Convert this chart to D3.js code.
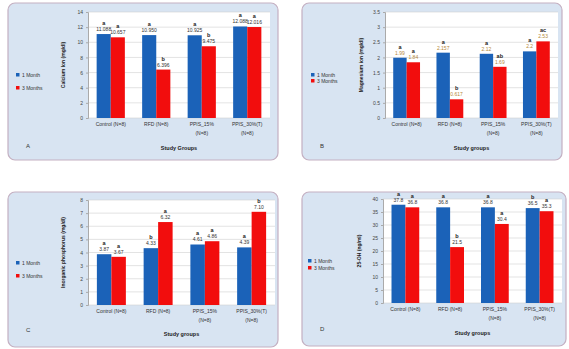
<!DOCTYPE html>
<html><head><meta charset="utf-8">
<script src="https://cdn.jsdelivr.net/npm/d3@7"></script>
<style>body{margin:0;background:#fff}svg{display:block}text{font-family:"Liberation Sans",Arial,sans-serif}</style>
</head><body><svg id="c" width="569" height="349"></svg>
<script>
const categories = [["Control (N=8)"],["RFD (N=8)"],["PPIS_15%","(N=8)"],["PPIS_30%(T)","(N=8)"]];
const seriesNames = ["1 Month","3 Months"];

const caMonth1 = [11.088, 10.950, 10.925, 12.088];
const caMonth3 = [10.657, 6.396, 9.475, 12.016];
const caLetters1 = ["a","a","a","a"];
const caLetters3 = ["a","b","b","a"];
const caTicks = [0,2,4,6,8,10,12,14];

const mgMonth1 = [1.99, 2.157, 2.12, 2.20];
const mgMonth3 = [1.84, 0.617, 1.69, 2.53];
const mgLetters1 = ["a","a","a","a"];
const mgLetters3 = ["a","b","ab","ac"];
const mgTicks = [0,0.5,1,1.5,2,2.5,3,3.5];

const pMonth1 = [3.87, 4.33, 4.61, 4.39];
const pMonth3 = [3.67, 6.32, 4.86, 7.10];
const pLetters1 = ["a","b","a","a"];
const pLetters3 = ["a","a","a","b"];
const pTicks = [0,1,2,3,4,5,6,7,8];

const vdMonth1 = [37.8, 36.8, 36.8, 36.5];
const vdMonth3 = [36.8, 21.5, 30.4, 35.3];
const vdLetters1 = ["a","a","a","b"];
const vdLetters3 = ["a","b","a","a"];
const vdTicks = [0,5,10,15,20,25,30,35,40];

const colors = ["#1b62b8","#f20d0d"];
const svg = d3.select("#c");

function panel(o){
  const g = svg.append("g");
  g.append("rect").attr("x",o.bx).attr("y",o.by).attr("width",o.bw).attr("height",o.bh)
    .attr("rx",7).attr("fill","#d8e4f2").attr("stroke","#c4b0c2").attr("stroke-width",1.2);
  const x = d3.scaleBand().domain(d3.range(4)).range([o.px0,o.px1]).paddingInner(0.38).paddingOuter(0.19);
  const y = d3.scaleLinear().domain([0,o.max]).range([o.py1,o.py0]);
  g.append("rect").attr("x",o.px0).attr("y",o.py0).attr("width",o.px1-o.px0).attr("height",o.py1-o.py0).attr("fill","#fff");
  g.append("g").selectAll("line").data(o.ticks).join("line")
    .attr("x1",o.px0).attr("x2",o.px1).attr("y1",d=>y(d)).attr("y2",d=>y(d))
    .attr("stroke","#d0d0d0").attr("stroke-width",0.6);
  const ax = g.append("g").attr("transform",`translate(${o.px0},0)`)
    .call(d3.axisLeft(y).tickValues(o.ticks).tickSize(2).tickFormat(d=>d));
  ax.select(".domain").attr("stroke","#aaa");
  ax.selectAll(".tick line").attr("stroke","#aaa");
  ax.selectAll("text").attr("font-size",5).attr("fill","#444");
  const xb = d3.scaleBand().domain([0,1]).range([0,x.bandwidth()]);
  const series = [o.s1,o.s3], letters=[o.l1,o.l3];
  series.forEach((s,si)=>{
    g.append("g").selectAll("rect").data(s).join("rect")
      .attr("x",(d,i)=>x(i)+xb(si)).attr("width",xb.bandwidth())
      .attr("y",d=>y(d)).attr("height",d=>o.py1-y(d)).attr("fill",colors[si]);
    g.append("g").selectAll("text").data(s).join("text")
      .attr("x",(d,i)=>x(i)+xb(si)+xb.bandwidth()/2).attr("y",d=>y(d)-3)
      .attr("text-anchor","middle").attr("font-size",5).attr("fill",o.vcol).text(d=>o.fmt(d));
    g.append("g").selectAll("text").data(s).join("text")
      .attr("x",(d,i)=>x(i)+xb(si)+xb.bandwidth()/2).attr("y",d=>y(d)-9)
      .attr("text-anchor","middle").attr("font-size",5.5).attr("font-weight","bold").attr("fill","#222")
      .text((d,i)=>letters[si][i]);
  });
  const cl = g.append("g").selectAll("text").data(categories).join("text")
    .attr("x",(d,i)=>x(i)+x.bandwidth()/2).attr("y",o.py1+8)
    .attr("text-anchor","middle").attr("font-size",5).attr("fill","#333");
  cl.each(function(d){
    d3.select(this).selectAll("tspan").data(d).join("tspan")
      .attr("x",d3.select(this).attr("x")).attr("dy",(t,k)=>k===0?0:9).text(t=>t);
  });
  g.append("text").attr("x",(o.px0+o.px1)/2).attr("y",o.xty).attr("text-anchor","middle")
    .attr("font-size",5.5).attr("font-weight","bold").attr("fill","#222").text(o.xtitle);
  g.append("text").attr("transform",`translate(${o.ytx},${(o.py0+o.py1)/2}) rotate(-90)`)
    .attr("text-anchor","middle").attr("font-size",5).attr("font-weight","bold").attr("fill","#222").text(o.ytitle);
  seriesNames.forEach((n,i)=>{
    g.append("rect").attr("x",o.lx).attr("y",o.ly[i]-3).attr("width",3.5).attr("height",3.5).attr("fill",colors[i]);
    g.append("text").attr("x",o.lx+6).attr("y",o.ly[i]+1).attr("font-size",5).attr("fill","#333").text(n);
  });
  g.append("text").attr("x",o.tx).attr("y",o.ty).attr("font-size",6).attr("fill","#333").text(o.tag);
}

panel({bx:8,by:3,bw:270,bh:157,px0:88,px1:270,py0:12,py1:118,max:14,ticks:caTicks,
  s1:caMonth1,s3:caMonth3,l1:caLetters1,l3:caLetters3,vcol:"#333",fmt:d3.format(".3f"),
  xtitle:"Study Groups",xty:150,ytitle:"Calcium Ion (mg/dl)",ytx:65,lx:16,ly:[76,89],tag:"A",tx:26,ty:148});
panel({bx:302,by:3,bw:260,bh:157,px0:385,px1:558,py0:12,py1:118,max:3.5,ticks:mgTicks,
  s1:mgMonth1,s3:mgMonth3,l1:mgLetters1,l3:mgLetters3,vcol:"#b5893a",fmt:d=>d,
  xtitle:"Study groups",xty:150,ytitle:"Magnesium ion (mg/dl)",ytx:363,lx:311,ly:[76,82],tag:"B",tx:320,ty:148});
panel({bx:8,by:192,bw:270,bh:155,px0:88,px1:275,py0:200,py1:305,max:8,ticks:pTicks,
  s1:pMonth1,s3:pMonth3,l1:pLetters1,l3:pLetters3,vcol:"#333",fmt:d3.format(".2f"),
  xtitle:"Study groups",xty:336,ytitle:"Inorganic phosphorus (mg/dl)",ytx:65,lx:16,ly:[264,277],tag:"C",tx:26,ty:332});
panel({bx:302,by:192,bw:264,bh:154,px0:383,px1:562,py0:199,py1:303,max:40,ticks:vdTicks,
  s1:vdMonth1,s3:vdMonth3,l1:vdLetters1,l3:vdLetters3,vcol:"#333",fmt:d3.format(".1f"),
  xtitle:"Study groups",xty:335,ytitle:"25-OH (ng/ml)",ytx:361,lx:308,ly:[262,269],tag:"D",tx:320,ty:331});
</script></body></html>
